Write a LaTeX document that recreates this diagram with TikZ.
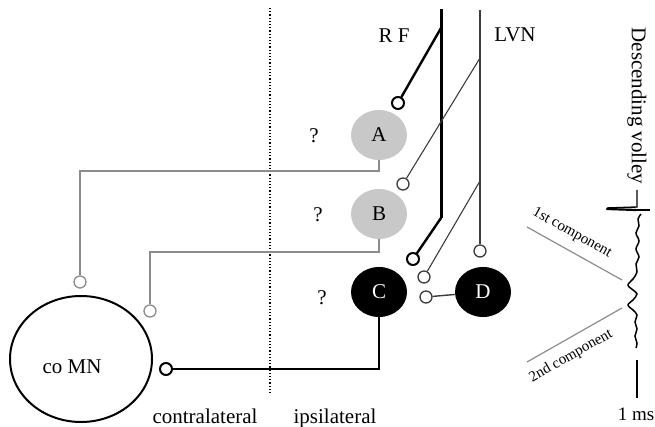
\documentclass[tikz,border=0pt]{standalone}
\usepackage{fontspec}
\setmainfont{Liberation Serif}
\usetikzlibrary{shapes.geometric}

\definecolor{cellgray}{HTML}{C8C8C8}
\definecolor{wiregray}{HTML}{8C8C8C}
\definecolor{lvngray}{HTML}{3C3C3C}

\tikzset{
  lbl/.style={inner sep=0pt, font=\fontsize{21}{25}\selectfont},
  smalllbl/.style={inner sep=0pt, font=\fontsize{15}{18}\selectfont},
  cellgrey/.style={ellipse, fill=cellgray, minimum width=56pt, minimum height=50pt,
    inner sep=0pt, font=\fontsize{21}{25}\selectfont},
  cellblack/.style={ellipse, fill=black, text=white, minimum width=56pt, minimum height=50pt,
    inner sep=0pt, font=\fontsize{21}{25}\selectfont},
  mn/.style={ellipse, draw=black, line width=2pt, minimum width=142pt, minimum height=126pt},
  synapse/.style={circle, draw, fill=white, minimum size=12pt, inner sep=0pt},
  rfwire/.style={black, line width=3pt},
  rfbranch/.style={black, line width=2.4pt},
  lvnwire/.style={lvngray, line width=1.4pt},
  lvnbranch/.style={lvngray, line width=1.1pt},
  greywire/.style={wiregray, line width=1.3pt},
  cwire/.style={black, line width=2.4pt},
}

\begin{document}
\begin{tikzpicture}[x=1pt, y=-1pt]
\useasboundingbox (0,0) rectangle (655,427);

% midline between the two sides
\coordinate (midTop) at (270,8);
\coordinate (midBot) at (270,394);
\draw[black, line width=1.2pt, dotted] (midTop) -- (midBot);

% interneurones
\node[cellgrey]  (A) at (379,135) {A};
\node[cellgrey]  (B) at (379,214) {B};
\node[cellblack] (C) at (379,292) {C};
\node[cellblack] (D) at (483,292) {D};

% contralateral motoneurone
\node[mn] (coMN) at (81,359) {};
\node[lbl, anchor=base] (coMNtxt) at (72,373) {co MN};

% reticular formation input
\coordinate (rfTop)  at (441,9);
\coordinate (rfJ1)   at (441,28);
\coordinate (rfBend) at (441,218);
\node[synapse, line width=2pt] (sRA) at (398,103) {};
\node[synapse, line width=2pt] (sRC) at (413,259) {};
\draw[rfwire] (rfTop) -- (rfBend);
\draw[rfbranch] (rfJ1) -- (sRA);
\draw[rfbranch, line cap=round] (rfBend) -- (sRC);

% lateral vestibular nucleus input
\coordinate (lvTop) at (480,10);
\coordinate (lvJ1)  at (480,58);
\coordinate (lvJ2)  at (480,181);
\node[synapse, draw=lvngray, line width=1.3pt] (sLD) at (480,251) {};
\node[synapse, draw=lvngray, line width=1.3pt] (sLB) at (403,184) {};
\node[synapse, draw=lvngray, line width=1.3pt] (sLC) at (424,277) {};
\draw[lvnwire] (lvTop) -- (sLD);
\draw[lvnbranch] (lvJ1) -- (sLB);
\draw[lvnbranch] (lvJ2) -- (sLC);

% D onto C
\node[synapse, draw=lvngray, line width=1.3pt] (sDC) at (426,297) {};
\draw[lvnwire] (D) -- (sDC);

% A and B projections to the contralateral side
\coordinate (aTurn) at (379,171);
\coordinate (aLeft) at (80,171);
\node[synapse, draw=wiregray, line width=1.3pt] (sA) at (80,282) {};
\draw[greywire] (A.south) -- (aTurn) -- (aLeft) -- (sA);

\coordinate (bTurn) at (379,252);
\coordinate (bLeft) at (150,252);
\node[synapse, draw=wiregray, line width=1.3pt] (sB) at (150,311) {};
\draw[greywire] (B.south) -- (bTurn) -- (bLeft) -- (sB);

% C projection onto co MN
\coordinate (cTurn) at (379,369);
\node[synapse, line width=2pt] (sC) at (166,369) {};
\draw[cwire] (C.south) -- (cTurn) -- (sC);

% labels
\node[lbl, anchor=base] (rfLbl)  at (394,43) {R F};
\node[lbl, anchor=base] (lvnLbl) at (515,42) {LVN};
\node[lbl] (qA) at (314,136) {?};
\node[lbl] (qB) at (318,215) {?};
\node[lbl] (qC) at (322,298) {?};
\node[lbl, anchor=base] (contraLbl) at (205,423) {contralateral};
\node[lbl, anchor=base] (ipsiLbl)   at (335,423) {ipsilateral};

% descending volley record
\node[lbl, rotate=-90] (volleyLbl) at (637,106) {Descending volley};
\draw[black, line width=1.4pt] (637,190) -- (637,207) -- (607,208);
\draw[black, line width=2.2pt, line cap=round] (607,209) -- (636,210);
\draw[black, line width=1.2pt] (636,210) -- (650,210);
\draw[black, line width=1.5pt] plot[smooth, tension=0.6] coordinates {
  (641,214) (638,219) (639,226) (636,233) (639,241) (636,249) (639,257)
  (636,264) (637,272) (633,279) (628,285) (633,290) (637,294) (633,300)
  (628,305) (633,310) (637,315) (635,322) (637,329) (635,336) (637,343) (636,348)};

% component markers
\coordinate (c1a) at (527,227);
\coordinate (c1b) at (622,280);
\coordinate (c2a) at (527,362);
\coordinate (c2b) at (622,308);
\draw[greywire, line width=1.2pt] (c1a) -- (c1b);
\draw[greywire, line width=1.2pt] (c2a) -- (c2b);
\node[smalllbl, rotate=-29] (c1Lbl) at (572,233) {1st component};
\node[smalllbl, rotate=29.5]  (c2Lbl) at (571,356) {2nd component};

% time scale
\coordinate (barTop) at (637,360);
\coordinate (barBot) at (637,398);
\draw[black, line width=1.5pt] (barTop) -- (barBot);
\node[lbl, font=\fontsize{19}{22}\selectfont, anchor=base] (msLbl) at (636,420) {1 ms};
\end{tikzpicture}
\end{document}
